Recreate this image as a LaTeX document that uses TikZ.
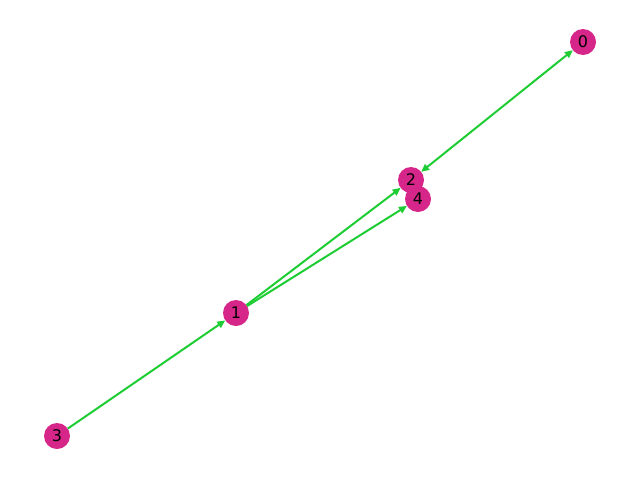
\documentclass[tikz,border=0pt]{standalone}
\usepackage{fontspec}
\setmainfont{DejaVu Sans}
\usetikzlibrary{arrows.meta,backgrounds}
\definecolor{nodecol}{RGB}{214,38,137}
\definecolor{edgecol}{RGB}{30,204,51}
\begin{document}
\begin{tikzpicture}[x=1pt,y=-1pt,
  vert/.style={circle,fill=nodecol,draw=none,minimum size=26pt,inner sep=0pt,outer sep=0pt,font=\fontsize{16}{19}\selectfont},
  edge/.style={draw=edgecol,line width=2pt,-{Triangle[length=8pt,width=7pt]}},
  biedge/.style={draw=edgecol,line width=2pt,{Triangle[length=8pt,width=7pt]}-{Triangle[length=8pt,width=7pt]}}]
\useasboundingbox (0,0) rectangle (640,480);
\node[vert] (n0) at (583,42) {0};
\node[vert] (n2) at (411,180) {2};
\node[vert] (n4) at (418,199) {4};
\node[vert] (n1) at (236,313) {1};
\node[vert] (n3) at (57,436) {3};
\begin{scope}[on background layer]
\draw[biedge] (n2) -- (n0);
\draw[edge] (n1) -- (n2);
\draw[edge] (n1) -- (n4);
\draw[edge] (n3) -- (n1);
\end{scope}
\end{tikzpicture}
\end{document}
